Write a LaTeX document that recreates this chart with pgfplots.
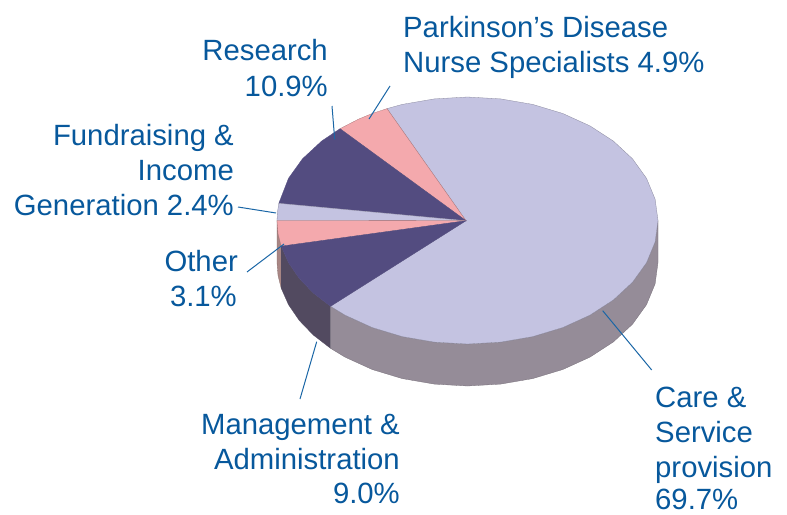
\documentclass[border=0pt]{standalone}
\usepackage{pgfplots}
\pgfplotsset{compat=1.18}
\usepackage{fontspec}
\setmainfont{Liberation Sans}
\definecolor{lav}{HTML}{C4C3E1}
\definecolor{pinkw}{HTML}{F4A9AD}
\definecolor{dark}{HTML}{534C80}
\definecolor{sidegray}{HTML}{958C98}
\definecolor{sidedark}{HTML}{524A60}
\definecolor{sidepink}{HTML}{A88684}
\definecolor{txt}{HTML}{07589C}
\definecolor{lead}{HTML}{1A66A6}
\begin{document}
\begin{tikzpicture}
\begin{axis}[
  width=787pt,height=514pt,scale only axis,
  xmin=0,xmax=787,ymin=0,ymax=514,y dir=reverse,
  axis lines=none,clip=false,
  every axis plot/.append style={mark=none},
]
\path (axis cs:0,0) rectangle (axis cs:787,514);
% side walls
\addplot[fill=sidepink,draw=sidepink!80!black,line width=0.3pt] coordinates {
(277,220.5)(278,233.4)(281.2,246.2)(281.2,288.2)(278,275.4)(277,262.5)} -- cycle;
\addplot[fill=sidedark,draw=sidedark,line width=0.3pt] coordinates {
(281.2,246.2)(288.5,262.7)(299.3,278.5)(313.4,293.1)(330.5,306.3)
(330.5,348.3)(313.4,335.1)(299.3,320.5)(288.5,304.7)(281.2,288.2)} -- cycle;
\addplot[fill=sidegray,draw=sidegray!80!black,line width=0.3pt] coordinates {
(330.5,306.3)(345,315.1)(372.2,327.5)(402.3,336.6)(434.4,342.1)(467.5,344)
(500.6,342.1)(532.7,336.6)(562.8,327.5)(590,315.1)(613.4,299.9)(632.5,282.2)
(646.5,262.7)(655.1,241.9)(658,220.5)
(658,262.5)(655.1,283.9)(646.5,304.7)(632.5,324.2)(613.4,341.9)(590,357.1)
(562.8,369.5)(532.7,378.6)(500.6,384.1)(467.5,386)(434.4,384.1)(402.3,378.6)
(372.2,369.5)(345,357.1)(330.5,348.3)} -- cycle;
% top wedges
\addplot[fill=lav,draw=lav!70!black,line width=0.3pt] coordinates {
(466,220.7)(387,108.6)(402.3,104.4)(434.4,98.9)(467.5,97)(500.6,98.9)(532.7,104.4)
(562.8,113.5)(590,125.9)(613.4,141.1)(632.5,158.8)(646.5,178.3)(655.1,199.1)(658,220.5)
(655.1,241.9)(646.5,262.7)(632.5,282.2)(613.4,299.9)(590,315.1)(562.8,327.5)
(532.7,336.6)(500.6,342.1)(467.5,344)(434.4,342.1)(402.3,336.6)(372.2,327.5)
(345,315.1)(330.5,306.3)} -- cycle;
\addplot[fill=pinkw,draw=pinkw!70!black,line width=0.3pt] coordinates {
(466,220.7)(340,128.7)(358.2,119.3)(372.2,113.5)(387,108.6)} -- cycle;
\addplot[fill=dark,draw=dark,line width=0.3pt] coordinates {
(466,220.7)(278.8,203.3)(288.5,178.3)(302.5,158.8)(321.6,141.1)(340,128.7)} -- cycle;
\addplot[fill=lav,draw=lav!70!black,line width=0.3pt] coordinates {
(466,220.7)(277,220.5)(277.5,211.9)(278.8,203.3)} -- cycle;
\addplot[fill=pinkw,draw=pinkw!70!black,line width=0.3pt] coordinates {
(466,220.7)(281.2,246.2)(278,233.4)(277,220.5)} -- cycle;
\addplot[fill=dark,draw=dark,line width=0.3pt] coordinates {
(466,220.7)(330.5,306.3)(313.4,293.1)(299.3,278.5)(288.5,262.7)(281.2,246.2)} -- cycle;
% leader lines
\addplot[lead,line width=1pt] coordinates {(390,86)(369,119)};
\addplot[lead,line width=1pt] coordinates {(332,106)(334.7,139.3)};
\addplot[lead,line width=1pt] coordinates {(238,207)(276,213)};
\addplot[lead,line width=1pt] coordinates {(247,272)(284,244)};
\addplot[lead,line width=1pt] coordinates {(300,399)(316.7,341.7)};
\addplot[lead,line width=1pt] coordinates {(602.7,310.7)(651.7,370)};
% labels
\tikzset{L/.style={text=txt,font=\fontsize{29.3}{33}\selectfont,inner sep=0pt,anchor=base west},
         R/.style={text=txt,font=\fontsize{29.3}{33}\selectfont,inner sep=0pt,anchor=base east}}
\node[L] at (axis cs:403,37) {Parkinson’s Disease};
\node[L] at (axis cs:403,72) {Nurse Specialists 4.9\%};
\node[R] at (axis cs:328,60) {Research};
\node[R] at (axis cs:328,96) {10.9\%};
\node[R] at (axis cs:234,145) {Fundraising \&};
\node[R] at (axis cs:234,180) {Income};
\node[R] at (axis cs:234,215) {Generation 2.4\%};
\node[R] at (axis cs:238,271) {Other};
\node[R] at (axis cs:237,306) {3.1\%};
\node[R] at (axis cs:400,434) {Management \&};
\node[R] at (axis cs:400,469) {Administration};
\node[R] at (axis cs:400,503) {9.0\%};
\node[L] at (axis cs:655,407) {Care \&};
\node[L] at (axis cs:655,442) {Service};
\node[L] at (axis cs:655,477) {provision};
\node[L] at (axis cs:655,509) {69.7\%};
\end{axis}
\end{tikzpicture}
\end{document}
